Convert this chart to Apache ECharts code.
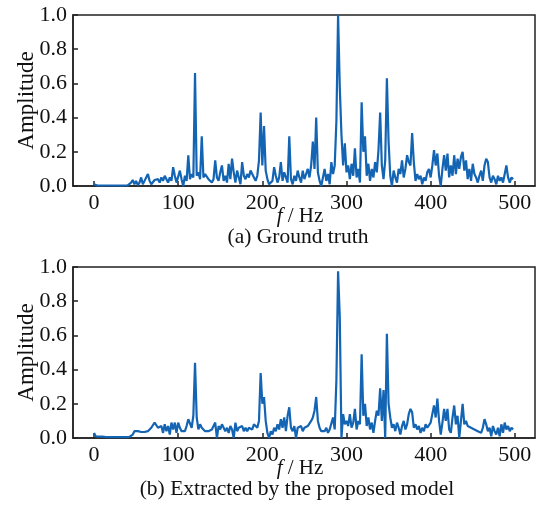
<!DOCTYPE html>
<html>
<head>
<meta charset="utf-8">
<script src="https://cdn.jsdelivr.net/npm/echarts@6/dist/echarts.min.js"></script>
<style>
html,body{margin:0;padding:0;background:#fff;}
#chart{width:540px;height:507px;}
</style>
</head>
<body>
<div id="chart"></div>
<script>
// Frequency axis (Hz)
var freqHz = [
0,2,4,6,8,10,12,14,16,18,
20,22,24,26,28,30,32,34,36,38,
40,42,44,46,48,50,52,54,56,58,
60,62,64,66,68,70,72,74,76,78,
80,82,84,86,88,90,92,94,96,98,
100,102,104,106,108,110,112,114,116,118,
120,122,124,126,128,130,132,134,136,138,
140,142,144,146,148,150,152,154,156,158,
160,162,164,166,168,170,172,174,176,178,
180,182,184,186,188,190,192,194,196,198,
200,202,204,206,208,210,212,214,216,218,
220,222,224,226,228,230,232,234,236,238,
240,242,244,246,248,250,252,254,256,258,
260,262,264,266,268,270,272,274,276,278,
280,282,284,286,288,290,292,294,296,298,
300,302,304,306,308,310,312,314,316,318,
320,322,324,326,328,330,332,334,336,338,
340,342,344,346,348,350,352,354,356,358,
360,362,364,366,368,370,372,374,376,378,
380,382,384,386,388,390,392,394,396,398,
400,402,404,406,408,410,412,414,416,418,
420,422,424,426,428,430,432,434,436,438,
440,442,444,446,448,450,452,454,456,458,
460,462,464,466,468,470,472,474,476,478,
480,482,484,486,488,490,492,494,496,498
];

// (a) Ground truth amplitudes
var ampGroundTruth = [
0.01,0.003,0.003,0.002,0.003,0.002,0.003,0.002,0.003,0.002,
0.003,0.002,0.003,0.002,0.003,0.006,0.002,0.004,0.003,0.005,
0.004,0.01,0.02,0.035,0.01,0.03,0.005,0.02,0.05,0.01,
0.03,0.02,0.07,0.03,0.01,0.02,0.035,0.03,0.04,0.02,
0.05,0.03,0.06,0.04,0.02,0.05,0.03,0.11,0.06,0.02,
0.01,0.09,0.04,0.0,0.06,0.03,0.18,0.04,0.07,0.05,
0.66,0.06,0.08,0.04,0.29,0.05,0.07,0.06,0.04,0.05,
0.02,0.04,0.15,0.05,0.03,0.08,0.12,0.03,0.06,0.02,
0.13,0.04,0.16,0.08,0.02,0.09,0.05,0.01,0.14,0.06,
0.04,0.07,0.05,0.09,0.08,0.05,0.03,0.06,0.15,0.43,
0.12,0.35,0.09,0.04,0.01,0.0,0.03,0.11,0.06,0.02,
0.05,0.14,0.03,0.08,0.05,0.02,0.29,0.04,0.01,0.06,
0.03,0.09,0.05,0.02,0.09,0.04,0.07,0.1,0.05,0.12,
0.26,0.1,0.40,0.08,0.03,0.0,0.05,0.1,0.03,0.07,
0.01,0.14,0.07,0.12,0.38,1.0,0.58,0.3,0.12,0.25,
0.08,0.12,0.04,0.13,0.06,0.22,0.05,0.1,0.02,0.49,
0.2,0.29,0.06,0.13,0.03,0.1,0.05,0.14,0.08,0.21,
0.43,0.12,0.04,0.15,0.63,0.26,0.06,0.0,0.09,0.05,
0.02,0.1,0.07,0.15,0.05,0.1,0.18,0.14,0.12,0.31,
0.14,0.03,0.07,0.04,0.06,0.01,0.05,0.03,0.08,0.1,
0.05,0.12,0.21,0.12,0.19,0.06,0.0,0.1,0.18,0.09,
0.19,0.05,0.12,0.06,0.18,0.07,0.16,0.1,0.17,0.2,
0.09,0.15,0.04,0.1,0.03,0.13,0.07,0.05,0.02,0.06,
0.09,0.03,0.12,0.16,0.14,0.05,0.02,0.06,0.04,0.01,
0.06,0.03,0.05,0.02,0.07,0.12,0.05,0.02,0.05,0.04
];

// (b) Extracted by the proposed model amplitudes
var ampExtracted = [
0.03,0.01,0.012,0.008,0.006,0.008,0.005,0.006,0.004,0.005,
0.004,0.005,0.004,0.006,0.004,0.005,0.004,0.005,0.004,0.005,
0.004,0.006,0.005,0.02,0.04,0.045,0.04,0.03,0.035,0.03,
0.035,0.04,0.04,0.05,0.06,0.07,0.09,0.095,0.06,0.05,
0.07,0.03,0.08,0.04,0.07,0.02,0.09,0.05,0.09,0.03,
0.09,0.06,0.04,0.05,0.04,0.07,0.11,0.12,0.06,0.13,
0.44,0.12,0.05,0.08,0.06,0.07,0.04,0.05,0.04,0.03,
0.05,0.07,0.09,0.0,0.07,0.05,0.08,0.09,0.04,0.06,
0.03,0.07,0.05,0.0,0.09,0.04,0.06,0.05,0.07,0.04,
0.06,0.04,0.06,0.07,0.05,0.08,0.09,0.06,0.1,0.38,
0.2,0.24,0.1,0.03,0.0,0.04,0.02,0.06,0.04,0.08,
0.05,0.11,0.06,0.12,0.04,0.13,0.18,0.06,0.04,0.07,
0.0,0.06,0.05,0.07,0.04,0.06,0.05,0.07,0.06,0.1,
0.12,0.16,0.24,0.1,0.06,0.04,0.05,0.04,0.06,0.03,
0.05,0.04,0.12,0.05,0.34,0.975,0.71,0.0,0.14,0.08,
0.1,0.07,0.14,0.06,0.09,0.17,0.05,0.1,0.08,0.49,
0.13,0.2,0.07,0.12,0.05,0.09,0.03,0.1,0.16,0.13,
0.29,0.1,0.28,0.0,0.61,0.2,0.12,0.06,0.08,0.04,
0.09,0.06,0.02,0.07,0.1,0.05,0.08,0.14,0.17,0.15,
0.06,0.08,0.05,0.07,0.03,0.06,0.04,0.08,0.06,0.07,
0.09,0.1,0.19,0.12,0.23,0.1,0.02,0.09,0.17,0.1,
0.17,0.05,0.03,0.12,0.19,0.08,0.13,0.0,0.1,0.2,
0.08,0.1,0.07,0.08,0.06,0.07,0.05,0.06,0.04,0.05,
0.03,0.06,0.11,0.08,0.04,0.06,0.01,0.07,0.04,0.02,
0.06,0.01,0.08,0.03,0.09,0.05,0.07,0.04,0.06,0.05
];

var xTicks = [0, 100, 200, 300, 400, 500];
var captions = ['(a) Ground truth', '(b) Extracted by the proposed model'];
var xAxisTitle = 'f';
var xAxisUnit = ' / Hz';
var yAxisTitle = 'Amplitude';

var FONT = "'Liberation Serif','Times New Roman',serif";
var LINE_COLOR = '#1464b4';
var AXIS_COLOR = '#222';
var TEXT_COLOR = '#111';

function pairs(xs, ys) { return xs.map(function (x, i) { return [x, ys[i]]; }); }

function makeX(idx) {
  return {
    type: 'value', gridIndex: idx, min: -25, max: 524,
    axisLine: { show: true, onZero: false, lineStyle: { color: AXIS_COLOR, width: 1.5 } },
    axisTick: { show: true, inside: true, length: 5, customValues: xTicks, lineStyle: { color: AXIS_COLOR, width: 1.5 } },
    axisLabel: { customValues: xTicks, fontFamily: FONT, fontSize: 22, color: TEXT_COLOR, margin: 6 },
    splitLine: { show: false }
  };
}
function makeY(idx) {
  return {
    type: 'value', gridIndex: idx, min: 0, max: 1, interval: 0.2,
    name: yAxisTitle, nameLocation: 'middle', nameRotate: 90, nameGap: 35, nameMoveOverlap: false,
    nameTextStyle: { fontFamily: FONT, fontSize: 23, color: TEXT_COLOR },
    axisLine: { show: true, onZero: false, lineStyle: { color: AXIS_COLOR, width: 1.5 } },
    axisTick: { show: true, inside: true, length: 5, lineStyle: { color: AXIS_COLOR, width: 1.5 } },
    axisLabel: { fontFamily: FONT, fontSize: 22, color: TEXT_COLOR, margin: 6,
      formatter: function (v) { return v.toFixed(1); } },
    splitLine: { show: false }
  };
}

function axisTitleEl(x, y) {
  return {
    type: 'text', x: x, y: y,
    style: {
      text: '{i|' + xAxisTitle + '}{n|' + xAxisUnit + '}',
      align: 'center', verticalAlign: 'middle',
      rich: {
        i: { fontFamily: FONT, fontSize: 21, fontStyle: 'italic', fill: TEXT_COLOR },
        n: { fontFamily: FONT, fontSize: 21, fill: TEXT_COLOR }
      }
    }
  };
}
function captionEl(x, y, str) {
  return {
    type: 'text', x: x, y: y,
    style: { text: str, align: 'center', verticalAlign: 'middle', fontFamily: FONT, fontSize: 21.5, fill: TEXT_COLOR }
  };
}

var gridBase = { left: 73, width: 462, height: 171, show: true, borderColor: AXIS_COLOR, borderWidth: 1.5,
  backgroundColor: 'transparent', containLabel: false, outerBoundsMode: 'none' };

var chart = echarts.init(document.getElementById('chart'), null, { renderer: 'canvas' });
chart.setOption({
  backgroundColor: '#fff',
  animation: false,
  grid: [
    Object.assign({}, gridBase, { top: 15 }),
    Object.assign({}, gridBase, { top: 267 })
  ],
  xAxis: [makeX(0), makeX(1)],
  yAxis: [makeY(0), makeY(1)],
  series: [
    { type: 'line', xAxisIndex: 0, yAxisIndex: 0, data: pairs(freqHz, ampGroundTruth), showSymbol: false,
      lineStyle: { color: LINE_COLOR, width: 2.2 }, itemStyle: { color: LINE_COLOR } },
    { type: 'line', xAxisIndex: 1, yAxisIndex: 1, data: pairs(freqHz, ampExtracted), showSymbol: false,
      lineStyle: { color: LINE_COLOR, width: 2.2 }, itemStyle: { color: LINE_COLOR } }
  ],
  graphic: [
    axisTitleEl(300, 216),
    captionEl(298, 237, captions[0]),
    axisTitleEl(300, 468),
    captionEl(297, 489, captions[1])
  ]
});
</script>
</body>
</html>
